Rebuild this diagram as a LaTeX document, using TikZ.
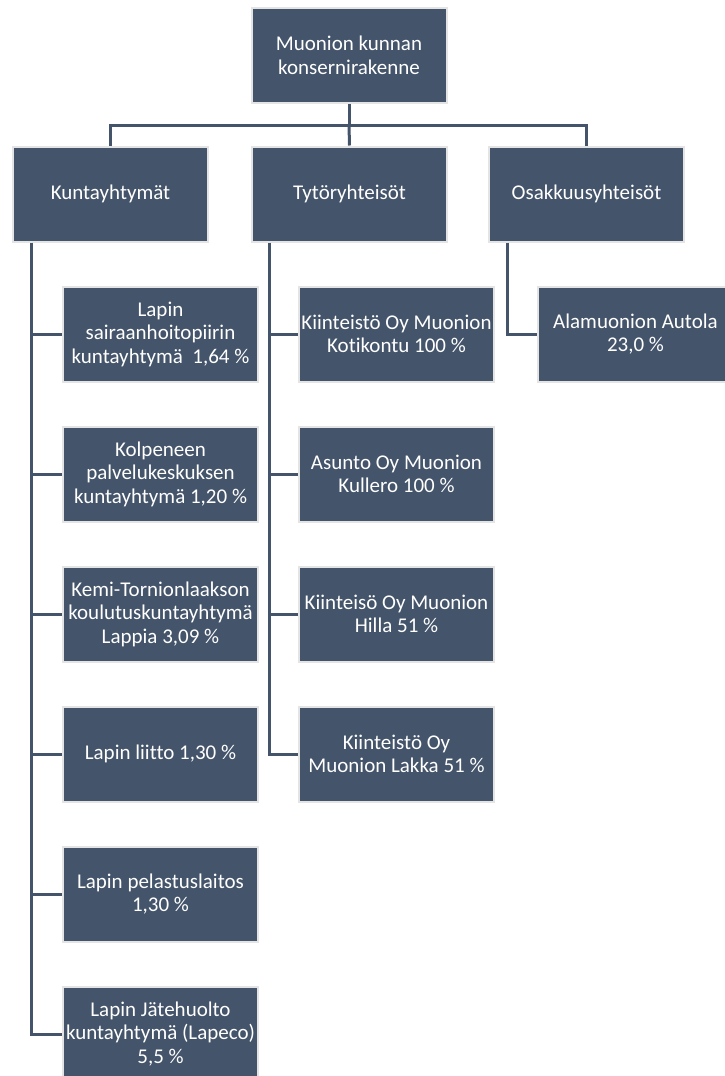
\documentclass[tikz,border=0pt]{standalone}
\usepackage{fontspec}
\setmainfont[RawFeature={-liga}]{Carlito}
\usepackage{tikz}
\usetikzlibrary{calc}

\definecolor{slate}{HTML}{44546A}
\definecolor{rim}{HTML}{E4E4E4}

\begin{document}
\begin{tikzpicture}[x=1pt,y=-1pt,
  box/.style={
    draw=rim, fill=slate, line width=2pt,
    minimum width=195pt,
    minimum height=95pt,
    inner sep=1pt,
    align=center, text=white,
    font=\fontsize{21}{23.5}\selectfont
  },
  link/.style={draw=slate, line width=3pt}
]
\useasboundingbox (0,0) rectangle (725,1076);

% Top
\node[box] (top) at (349,55.5) {Muonion kunnan\\ konsernirakenne};

% Groups
\node[box] (kunta) at (110.5,194) {Kuntayhtymät};
\node[box] (tyt) at (349.5,194) {Tytöryhteisöt};
\node[box] (osak) at (586.5,194) {Osakkuusyhteisöt};

% Kuntayhtymät
\node[box] (k1) at (160.5,334) {Lapin\\ sairaanhoitopiirin\\ kuntayhtymä\ \ 1,64 \%};
\node[box] (k2) at (160.5,474) {Kolpeneen\\ palvelukeskuksen\\ kuntayhtymä 1,20 \%};
\node[box] (k3) at (160.5,614) {Kemi-Tornionlaakson\\ koulutuskuntayhtymä\\ Lappia 3,09 \%};
\node[box] (k4) at (160.5,754) {Lapin liitto 1,30 \%};
\node[box] (k5) at (160.5,894) {Lapin pelastuslaitos\\ 1,30 \%};
\node[box] (k6) at (160.5,1034) {Lapin Jätehuolto\\ kuntayhtymä (Lapeco)\\ 5,5 \%};

% Tytöryhteisöt
\node[box] (t1) at (396.5,334) {Kiinteistö Oy Muonion\\ Kotikontu 100 \%};
\node[box] (t2) at (396.5,474) {Asunto Oy Muonion\\ Kullero 100 \%};
\node[box] (t3) at (396.5,614) {Kiinteisö Oy Muonion\\ Hilla 51 \%};
\node[box] (t4) at (396.5,754) {Kiinteistö Oy\\ Muonion Lakka 51 \%};

% Osakkuusyhteisöt
\node[box] (o1) at (635.5,334) {Alamuonion Autola\\ 23,0 \%};

% Lines from top
\coordinate (bus) at (349,125);
\draw[link] (top.south) -- (bus);
\draw[link] (kunta.north) |- (bus) -| (osak.north);
\draw[link] (bus) -- (tyt.north);

% Lines to children
\coordinate (kl) at ($(kunta.south west)+(19,0)$);
\coordinate (tl) at ($(tyt.south west)+(18,0)$);
\coordinate (ol) at ($(osak.south west)+(19,0)$);
\draw[link] (kl) |- (k6.west);
\foreach \c in {k1,k2,k3,k4,k5}
  \draw[link] (kl |- \c.west) -- (\c.west);
\draw[link] (tl) |- (t4.west);
\foreach \c in {t1,t2,t3}
  \draw[link] (tl |- \c.west) -- (\c.west);
\draw[link] (ol) |- (o1.west);

\end{tikzpicture}
\end{document}
